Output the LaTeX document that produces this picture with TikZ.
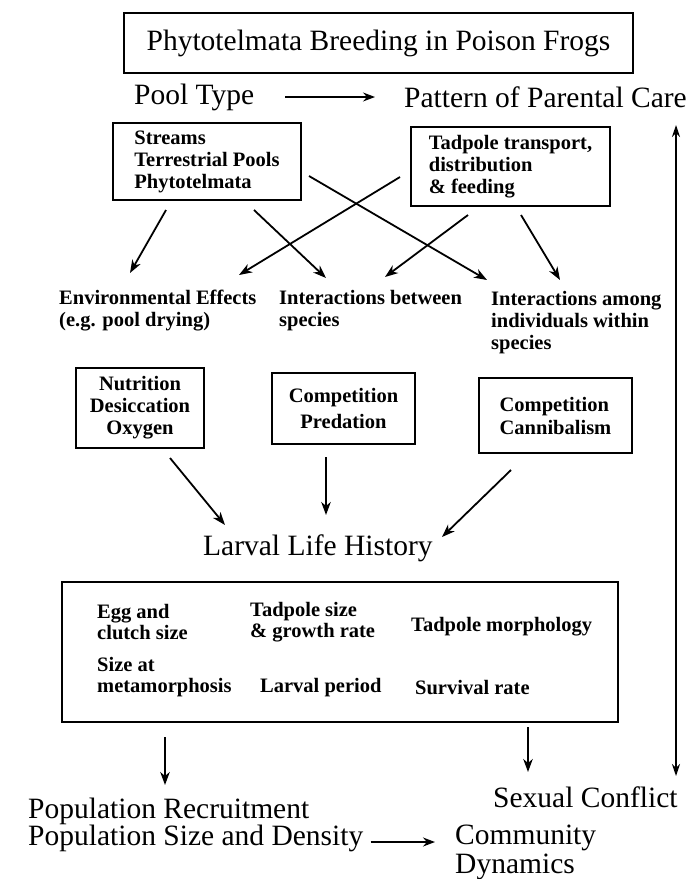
\documentclass[tikz,border=0pt]{standalone}
\usepackage{fontspec}
\setmainfont{Liberation Serif}
\usetikzlibrary{arrows.meta}
\begin{document}
\begin{tikzpicture}[x=1pt,y=-1pt,
  big/.style={font=\fontsize{29.5}{29}\selectfont, inner sep=0pt},
  small/.style={font=\fontsize{20.5}{22}\selectfont\bfseries, inner sep=0pt, align=left},
  framed/.style={draw, line width=1.2pt},
  arr/.style={line width=1.8pt, -{Stealth[length=13pt,width=9.5pt,inset=4pt]}},
  thinarr/.style={line width=1.2pt, -{Stealth[length=12pt,width=9pt,inset=4pt]}},
  dblarr/.style={line width=1.5pt, {Stealth[length=12pt,width=8pt,inset=4pt]}-{Stealth[length=12pt,width=8pt,inset=4pt]}}
]
\useasboundingbox (0,0) rectangle (699,879);

% title and top row
\node[framed, big, minimum width=509, minimum height=60] (title) at (378.5,43) {Phytotelmata Breeding in Poison Frogs};
\node[big, anchor=west] (pool) at (134,97) {Pool Type};
\node[big, anchor=west] (pattern) at (404,97) {Pattern of Parental Care};
\draw[thinarr, shorten <=31pt, shorten >=29pt] (pool.east) -- (pattern.west);

% level 2 boxes
\node[framed, small, minimum width=188, minimum height=77] (pooltypes) at (207,161.5) {Streams\\Terrestrial Pools\\Phytotelmata};
\node[framed, small, minimum width=199, minimum height=79] (care) at (510.5,166.5) {Tadpole transport,\\distribution\\\& feeding};

% level 3 labels
\node[small, anchor=west] (env) at (59,311) {Environmental Effects\\(e.g. pool drying)};
\node[small, anchor=west] (inter) at (279,311) {Interactions between\\species};
\node[small, anchor=west] (intra) at (491,322.5) {Interactions among\\individuals within\\species};

% arrow coordinates level 2 -> 3
\coordinate (a1s) at (166,210); \coordinate (a1e) at (130,273);
\coordinate (a2s) at (254,210); \coordinate (a2e) at (326,278);
\coordinate (a3s) at (309,176); \coordinate (a3e) at (487,280);
\coordinate (b1s) at (400,177); \coordinate (b1e) at (239,275);
\coordinate (b2s) at (468,215); \coordinate (b2e) at (385,277);
\coordinate (b3s) at (521,215); \coordinate (b3e) at (560,280);
\draw[arr] (a1s) -- (a1e);
\draw[arr] (a2s) -- (a2e);
\draw[arr] (a3s) -- (a3e);
\draw[arr] (b1s) -- (b1e);
\draw[arr] (b2s) -- (b2e);
\draw[arr] (b3s) -- (b3e);

% level 4 boxes
\node[framed, small, align=center, minimum width=128, minimum height=80] (abiotic) at (140,408) {Nutrition\\Desiccation\\Oxygen};
\node[framed, small, align=center, minimum width=143, minimum height=71, font=\fontsize{20.5}{26}\selectfont\bfseries] (interbox) at (343.5,408.5) {Competition\\Predation};
\node[framed, small, minimum width=153, minimum height=75, font=\fontsize{20.5}{23}\selectfont\bfseries] (intrabox) at (555.5,415.5) {Competition\\Cannibalism};

% larval life history
\node[big, anchor=west] (larval) at (203,548) {Larval Life History};
\coordinate (c1s) at (170,458); \coordinate (c1e) at (225,525);
\coordinate (c2s) at (326,457); \coordinate (c2e) at (326,515);
\coordinate (c3s) at (511,470); \coordinate (c3e) at (442,537);
\draw[arr] (c1s) -- (c1e);
\draw[arr] (c2s) -- (c2e);
\draw[arr] (c3s) -- (c3e);

% traits box
\node[framed, minimum width=556, minimum height=140, inner sep=0pt] (traits) at (340,652) {};
\node[small, anchor=west, font=\fontsize{20.5}{21}\selectfont\bfseries] (egg) at (97,622.5) {Egg and\\clutch size};
\node[small, anchor=west, font=\fontsize{20.5}{21}\selectfont\bfseries] (tsize) at (250,622.5) {Tadpole size\\\& growth rate};
\node[small, anchor=west] (morph) at (411,627) {Tadpole morphology};
\node[small, anchor=west, font=\fontsize{20.5}{21}\selectfont\bfseries] (meta) at (97,677.5) {Size at\\metamorphosis};
\node[small, anchor=west] (lperiod) at (260,688) {Larval period};
\node[small, anchor=west] (surv) at (415,688) {Survival rate};

% bottom
\node[big, anchor=west] (sex) at (493,797) {Sexual Conflict};
\node[big, anchor=west, align=left, font=\fontsize{29.5}{26}\selectfont] (pop) at (28,825) {Population Recruitment\\Population Size and Density};
\node[big, anchor=west, align=left, font=\fontsize{29.5}{29}\selectfont] (comm) at (455,852.5) {Community\\Dynamics};

\coordinate (d1s) at (165,737); \coordinate (d1e) at (165,785);
\coordinate (d2s) at (528,727); \coordinate (d2e) at (528,772);
\draw[arr] (d1s) -- (d1e);
\draw[arr] (d2s) -- (d2e);

\coordinate (vtop) at (676,125); \coordinate (vbot) at (676,776);
\draw[dblarr] (vbot) -- (vtop);

\draw[line width=2pt, -{Stealth[length=12pt,width=9pt,inset=4pt]}, shorten <=7pt] (pop.east |- 0,842) -- (435,842);
\end{tikzpicture}
\end{document}
